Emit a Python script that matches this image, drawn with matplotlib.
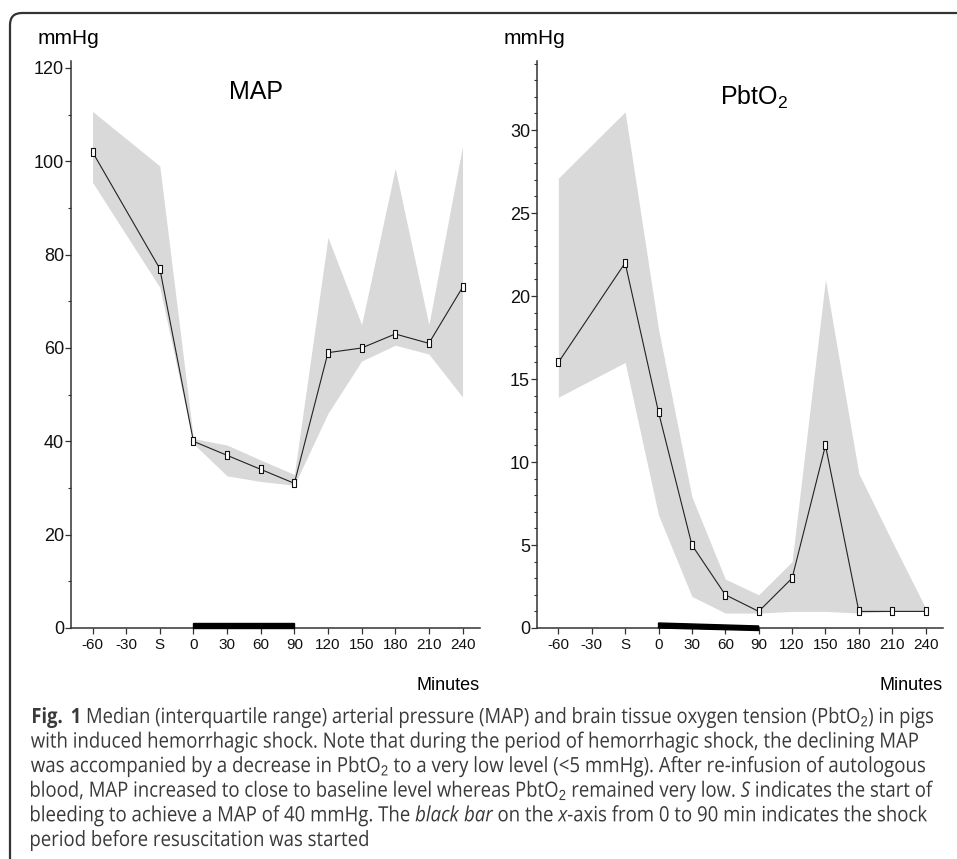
import matplotlib
matplotlib.use('Agg')
from matplotlib import pyplot as plt
from matplotlib.font_manager import FontProperties
from matplotlib.patches import FancyBboxPatch, Rectangle, Polygon, PathPatch
from matplotlib.textpath import TextPath
from matplotlib.ticker import MultipleLocator
from matplotlib.transforms import blended_transform_factory, IdentityTransform, Affine2D

# time axis; index 1 (-30) has no measurement
time_labels = ['-60', '-30', 'S', '0', '30', '60', '90', '120', '150', '180', '210', '240']
data_pos = [0, 2, 3, 4, 5, 6, 7, 8, 9, 10, 11]

map_median = [102, 77, 40, 37, 34, 31, 59, 60, 63, 61, 73]
map_q1 = [95.5, 73, 39.5, 32.6, 31.4, 30.6, 46, 57.2, 60.6, 58.7, 49.5]
map_q3 = [110.7, 99, 40.6, 39.2, 36, 32.9, 83.7, 65, 98.5, 65, 103.3]

pbt_median = [16, 22, 13, 5, 2, 1, 3, 11, 1, 1, 1]
pbt_q1 = [13.9, 16, 6.8, 1.9, 0.9, 0.9, 1, 1, 0.9, 1, 1]
pbt_q3 = [27.1, 31.1, 18, 7.9, 2.95, 2.0, 4.0, 21, 9.3, 5.2, 1.2]

caption = [
    r"$\mathbf{Fig.}$ $\mathbf{1}$ Median (interquartile range) arterial pressure (MAP) and brain tissue oxygen tension (PbtO$_2$) in pigs",
    "with induced hemorrhagic shock. Note that during the period of hemorrhagic shock, the declining MAP",
    "was accompanied by a decrease in PbtO$_2$ to a very low level (<5 mmHg). After re-infusion of autologous",
    r"blood, MAP increased to close to baseline level whereas PbtO$_2$ remained very low. $\mathit{S}$ indicates the start of",
    r"bleeding to achieve a MAP of 40 mmHg. The $\mathit{black\ bar}$ on the $\mathit{x}$-axis from 0 to 90 min indicates the shock",
    "period before resuscitation was started",
]
# pixel extents of the caption lines in the reference (last line is not full)
cap_x0 = [33, 31, 31, 31, 31, 31]
cap_x1 = [933, 918, 925, 933, 927, None]

plt.rcParams['font.family'] = ['Liberation Sans', 'DejaVu Sans']
plt.rcParams['mathtext.fontset'] = 'custom'
plt.rcParams['mathtext.rm'] = 'Liberation Sans'
plt.rcParams['mathtext.it'] = 'Open Sans:italic'
plt.rcParams['mathtext.bf'] = 'Open Sans:bold'

W, H = 957, 859
fig = plt.figure(figsize=(W / 100, H / 100), dpi=100)

# rounded frame, only top and left edges visible
frame = FancyBboxPatch((10, -40), W + 40, H - 13 + 40,
                       boxstyle='round,pad=0,rounding_size=12',
                       transform=IdentityTransform(), fill=False,
                       ec='#333333', lw=1.6)
fig.patches.append(frame)

marker_box = [(-0.6, -1), (0.6, -1), (0.6, 1), (-0.6, 1), (-0.6, -1)]


def panel(left_px, right_px, ymax, med, q1, q3, title, title_xy, minor):
    ax = fig.add_axes([left_px / W, (H - 628) / H, (right_px - left_px) / W, 567 / H])
    ax.fill_between(data_pos, q1, q3, color='#d9d9d9', lw=0)
    ax.plot(data_pos, med, color='#222222', lw=0.8, marker=marker_box,
            ms=5.5, mfc='white', mec='#111111', mew=0.8, zorder=3)
    ax.set_xlim(-0.64, 11.52)
    ax.set_ylim(0, ymax)
    ax.set_xticks(range(len(time_labels)))
    ax.set_xticklabels(time_labels, fontsize=11)
    ax.yaxis.set_minor_locator(MultipleLocator(minor))
    ax.tick_params(axis='y', labelsize=13, length=4, width=0.9, colors='#333333',
                   labelcolor='#111111', pad=1)
    ax.tick_params(axis='y', which='minor', length=2.5, width=0.8, colors='#333333')
    ax.tick_params(axis='x', length=4, width=0.9, colors='#333333',
                   labelcolor='#111111', pad=3)
    for s in ['top', 'right']:
        ax.spines[s].set_visible(False)
    for s in ['left', 'bottom']:
        ax.spines[s].set_color('#333333')
        ax.spines[s].set_linewidth(1.1)
    ax.text(title_xy[0], title_xy[1], title, transform=fig.transFigure,
            fontsize=18, ha='center', va='center')
    ax.text(left_px - 3, H - 39, 'mmHg', transform=IdentityTransform(),
            fontsize=15, ha='center', va='center')
    ax.text(right_px, H - 686, 'Minutes', transform=IdentityTransform(),
            fontsize=13, ha='right', va='center')
    return ax


ax1 = panel(71, 480, 121.5, map_median, map_q1, map_q3, 'MAP', (256 / W, 1 - 92 / H), 10)
ax2 = panel(537, 943, 34.16, pbt_median, pbt_q1, pbt_q3, 'PbtO$_2$', (754 / W, 1 - 97 / H), 1)

# black bar on the x axis: shock period 0-90 min
tr1 = blended_transform_factory(ax1.transData, ax1.transAxes)
ax1.add_patch(Rectangle((3, 0), 3, 5 / 567, transform=tr1, color='black', clip_on=False, zorder=4))
tr2 = blended_transform_factory(ax2.transData, ax2.transAxes)
ax2.add_patch(Polygon([(3, 0), (3, 5 / 567), (6, 2 / 567), (6, -2.5 / 567)],
                      closed=True, transform=tr2, color='black', clip_on=False, zorder=4))

# caption drawn as text paths, squeezed to the reference line widths
cap_prop = FontProperties(family='Open Sans')
paths = [TextPath((0, 0), line, size=21, prop=cap_prop) for line in caption]
scales = []
for tp, x0, x1 in zip(paths, cap_x0, cap_x1):
    if x1 is not None:
        scales.append((x1 - x0) / tp.get_extents().width)
mean_scale = sum(scales) / len(scales)
for i, tp in enumerate(paths):
    sx = scales[i] if i < len(scales) else mean_scale
    ext = tp.get_extents()
    baseline = 723 + i * 24.6
    tr = Affine2D().translate(-ext.x0, 0).scale(sx, 1).translate(cap_x0[i], H - baseline)
    fig.add_artist(PathPatch(tp, transform=tr, color='#3a3a3a', lw=0))

fig.savefig('out.png', dpi=100)
